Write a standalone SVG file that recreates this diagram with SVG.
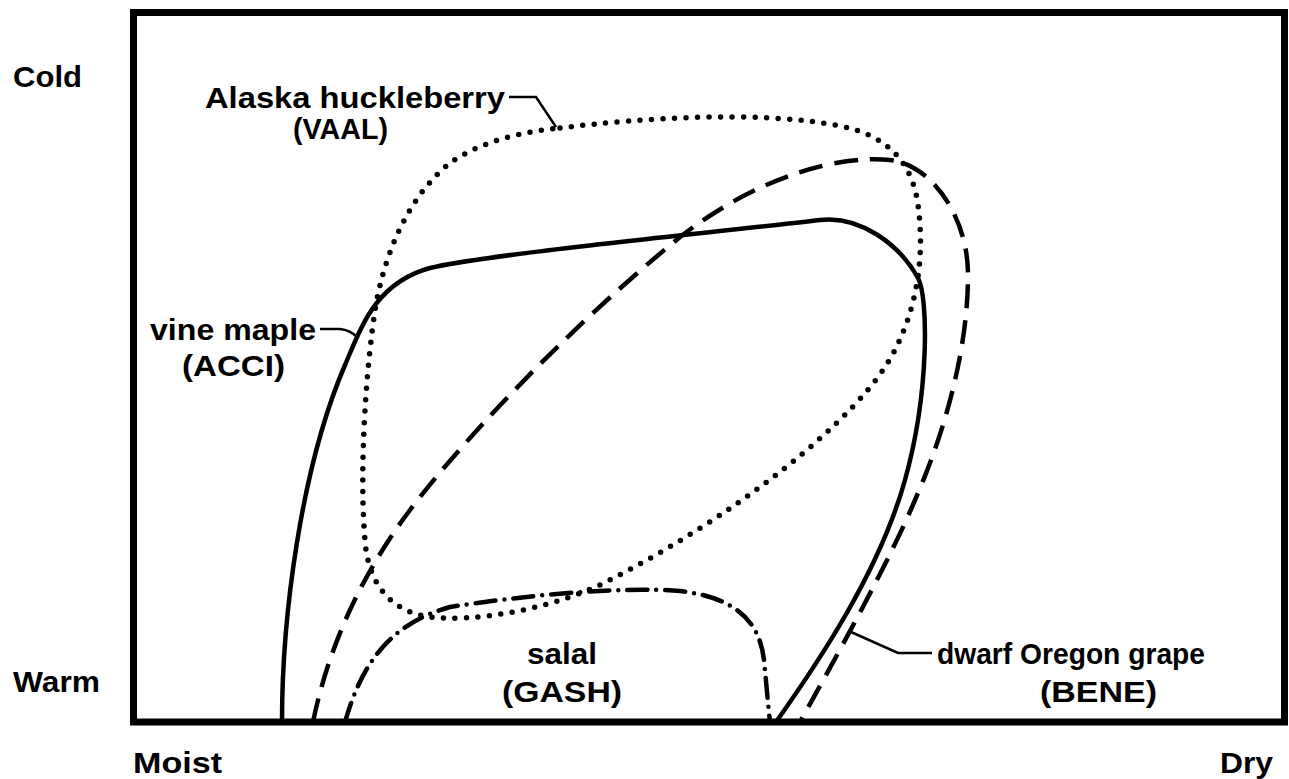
<svg xmlns="http://www.w3.org/2000/svg" width="1289" height="779" viewBox="0 0 1289 779">
<style>
.t{font-family:"Liberation Sans",Arial,Helvetica,sans-serif;font-weight:bold;font-size:30px;fill:#000}
.c{fill:none;stroke:#000;stroke-linejoin:round}
.solid{stroke-width:4.5}
.dash{stroke-width:4.5;stroke-dasharray:24 12}
.dot{stroke-width:5.5;stroke-linecap:round;stroke-dasharray:0 11.5}
.dd{stroke-width:4.5;stroke-linecap:round;stroke-dasharray:20 9 0 9}
.lead{fill:none;stroke:#000;stroke-width:2.5}
</style>
<rect width="1289" height="779" fill="#fff"/>
<g id="frame"><rect x="133.5" y="12.5" width="1151" height="709.5" fill="none" stroke="#000" stroke-width="7"/></g>
<g id="axes">
<text class="t" x="13" y="87" textLength="69" lengthAdjust="spacingAndGlyphs">Cold</text>
<text class="t" x="13" y="692" textLength="87" lengthAdjust="spacingAndGlyphs">Warm</text>
<text class="t" x="133" y="773" textLength="89" lengthAdjust="spacingAndGlyphs">Moist</text>
<text class="t" x="1220" y="773" textLength="53" lengthAdjust="spacingAndGlyphs">Dry</text>
</g>
<g id="connectors">
<path class="c dot" d="M 560 128 C 640 118, 760 110, 840 126 C 885 135, 912 160, 918 205 C 924 250, 920 300, 895 350 C 860 420, 730 520, 600 585 C 540 612, 470 622, 430 617 C 395 612, 372 590, 366 550 C 360 500, 362 400, 375 310 C 385 250, 410 195, 450 163 C 480 142, 520 132, 560 128 Z"/>
<path class="c solid" d="M 282 722 C 282 620, 300 470, 345 365 C 361 328, 375 283, 430 268 C 480 255, 720 232, 820 220 C 860 215, 900 245, 918 278 C 928 296, 930 390, 905 480 C 880 570, 820 660, 776 722"/>
<path class="c dash" d="M 313 722 C 330 640, 365 570, 410 510 C 455 450, 560 335, 680 237 C 760 175, 840 155, 890 160 C 930 164, 968 215, 968 275 C 968 340, 950 420, 915 500 C 890 560, 840 650, 800 722"/>
<path class="c dd" d="M 345 722 C 360 670, 385 625, 450 607 C 520 596, 620 586, 680 591 C 740 598, 760 625, 764 660 C 767 690, 768 705, 770 722"/>
<path class="lead" d="M 509 97 H 536 L 556 127"/>
<path class="lead" d="M 320 329 H 340 Q 350 330 357 337"/>
<path class="lead" d="M 932 653 H 898 L 851 632"/>
</g>
<g id="vaal"><text class="t" x="205" y="108" textLength="300" lengthAdjust="spacingAndGlyphs">Alaska huckleberry</text>
<text class="t" x="293" y="139" textLength="95" lengthAdjust="spacingAndGlyphs">(VAAL)</text></g>
<g id="acci"><text class="t" x="150" y="340" textLength="166" lengthAdjust="spacingAndGlyphs">vine maple</text>
<text class="t" x="182" y="376" textLength="103" lengthAdjust="spacingAndGlyphs">(ACCI)</text></g>
<g id="gash"><text class="t" x="527" y="664" textLength="70" lengthAdjust="spacingAndGlyphs">salal</text>
<text class="t" x="502" y="702" textLength="120" lengthAdjust="spacingAndGlyphs">(GASH)</text></g>
<g id="bene"><text class="t" x="937" y="664" textLength="268" lengthAdjust="spacingAndGlyphs">dwarf Oregon grape</text>
<text class="t" x="1040" y="702" textLength="117" lengthAdjust="spacingAndGlyphs">(BENE)</text></g>
</svg>
